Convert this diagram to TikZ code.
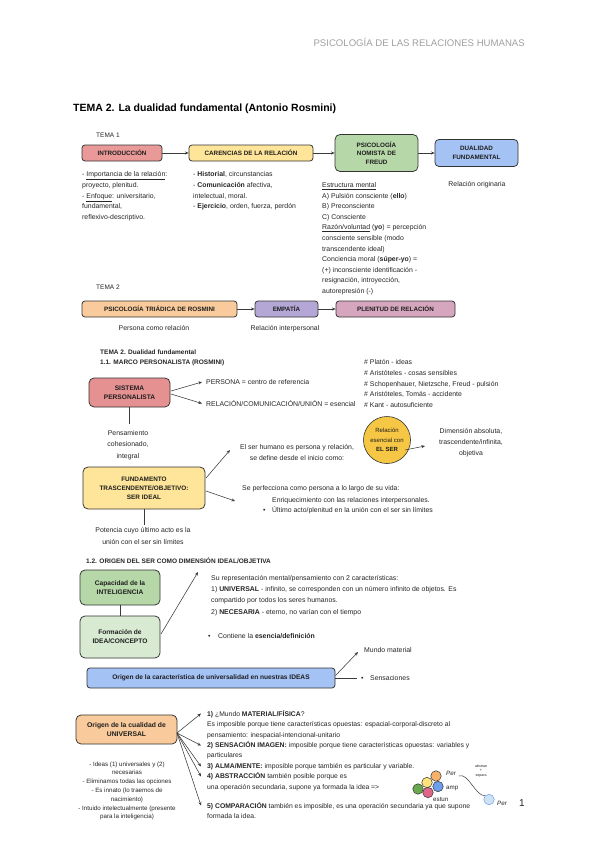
\documentclass[tikz,border=0pt]{standalone}
\usepackage{fontspec}
\setmainfont{Liberation Sans}
\usetikzlibrary{arrows.meta}
\definecolor{cIntro}{HTML}{EA9999}
\definecolor{cYel}{HTML}{FFE599}
\definecolor{cGreen}{HTML}{B6D7A8}
\definecolor{cLgreen}{HTML}{D9EAD3}
\definecolor{cBlue}{HTML}{A4C2F4}
\definecolor{cOrange}{HTML}{F9CB9C}
\definecolor{cPurple}{HTML}{B4A7D6}
\definecolor{cMauve}{HTML}{D5A6BD}
\definecolor{cSist}{HTML}{E69191}
\definecolor{cSer}{HTML}{F6C744}
\definecolor{bord}{HTML}{333333}
\definecolor{boxtxt}{HTML}{1E1E1E}
\definecolor{txtc}{HTML}{262626}
\definecolor{headc}{HTML}{A0A0A0}
\definecolor{linec}{HTML}{3A3A3A}
\definecolor{dotO}{HTML}{F6B26B}
\definecolor{dotY}{HTML}{FFE27A}
\definecolor{dotG}{HTML}{6AA84F}
\definecolor{dotP}{HTML}{E06688}
\definecolor{dotB}{HTML}{6D9EEB}
\definecolor{dotL}{HTML}{CFE2F3}
\begin{document}
\begin{tikzpicture}[x=1pt,y=-1pt,
  box/.style={draw=bord, line width=0.75pt, rounded corners=3pt, inner sep=0pt, align=center,
    font=\fontsize{6.3}{8.3}\selectfont\bfseries, text=boxtxt},
  lbl/.style={inner sep=0pt, anchor=base west, align=left, font=\fontsize{6.9}{10.8}\selectfont, text=txtc},
  lblc/.style={lbl, anchor=base, align=center},
  conn/.style={draw=linec, line width=0.55pt},
  arr/.style={conn, -{Stealth[length=3.6pt,width=3pt]}},
  dot/.style={circle, draw=bord, line width=0.5pt, minimum size=10.5pt, inner sep=0pt},
]
\useasboundingbox (0,0) rectangle (600,848);
\fill[white] (0,0) rectangle (600,848);

% header and title
\node[anchor=base east, inner sep=0pt, font=\fontsize{9.6}{11}\selectfont, text=headc] (hdr) at (525,46.4) {PSICOLOGÍA DE LAS RELACIONES HUMANAS};
\node[anchor=base west, inner sep=0pt, font=\fontsize{10.5}{12}\selectfont\bfseries] (title) at (73,111.8) {TEMA 2. La dualidad fundamental (Antonio Rosmini)};

% TEMA 1
\node[lbl, font=\fontsize{6.5}{8}\selectfont] (t1) at (96,137.3) {TEMA 1};
\node[box, fill=cIntro, minimum width=80pt, minimum height=16pt] (intro) at (122,153) {INTRODUCCIÓN};
\node[box, fill=cYel, minimum width=124pt, minimum height=16pt] (caren) at (251,153) {CARENCIAS DE LA RELACIÓN};
\node[box, fill=cGreen, minimum width=83pt, minimum height=37pt, rounded corners=5pt] (freud) at (376.5,153) {PSICOLOGÍA\\NOMISTA DE\\FREUD};
\node[box, fill=cBlue, minimum width=83pt, minimum height=27pt, rounded corners=4pt] (dual) at (476.5,153) {DUALIDAD\\FUNDAMENTAL};
\draw[arr] (intro.east) -- (caren.west);
\draw[arr] (caren.east) -- (freud.west);
\draw[arr] (freud.east) -- (dual.west);

\node[lbl] (introtx) at (82,219.7) {- \underline{Importancia de la relación}:\\proyecto, plenitud.\\- \underline{Enfoque}: universitario,\\fundamental,\\reflexivo-descriptivo.};
\node[lbl] (carentx) at (193,208.9) {- \textbf{Historial}, circunstancias\\- \textbf{Comunicación} afectiva,\\intelectual, moral.\\- \textbf{Ejercicio}, orden, fuerza, perdón};
\node[lbl, font=\fontsize{6.9}{10.6}\selectfont] (freudtx) at (322,293.5) {\underline{Estructura mental}\\A) Pulsión consciente (\textbf{ello})\\B) Preconsciente\\C) Consciente\\\underline{Razón/voluntad} (\textbf{yo}) = percepción\\consciente sensible (modo\\transcendente ideal)\\Conciencia moral (\textbf{súper-yo}) =\\(+) inconsciente identificación -\\resignación, introyección,\\autorepresión (-)};
\node[lblc] (dualtx) at (477,186.5) {Relación originaria};

% TEMA 2
\node[lbl, font=\fontsize{6.5}{8}\selectfont] (t2) at (96,289.5) {TEMA 2};
\node[box, fill=cOrange, minimum width=155pt, minimum height=16pt] (triad) at (159.5,309) {PSICOLOGÍA TRIÁDICA DE ROSMINI};
\node[box, fill=cPurple, minimum width=63pt, minimum height=16pt] (empat) at (286.5,309) {EMPATÍA};
\node[box, fill=cMauve, minimum width=119pt, minimum height=16pt] (plen) at (395.5,309) {PLENITUD DE RELACIÓN};
\draw[arr] (triad.east) -- (empat.west);
\draw[arr] (empat.east) -- (plen.west);
\node[lblc] (triadtx) at (154,330.5) {Persona como relación};
\node[lblc] (empattx) at (285,330.5) {Relación interpersonal};

% 1.1
\node[lbl, font=\fontsize{6.5}{10}\selectfont\bfseries] (h11) at (100,364.5) {TEMA 2. Dualidad fundamental\\1.1. MARCO PERSONALISTA (ROSMINI)};
\node[box, fill=cSist, minimum width=81pt, minimum height=29pt, rounded corners=5pt, font=\fontsize{6.6}{8.6}\selectfont\bfseries] (sist) at (129.5,392.5) {SISTEMA\\PERSONALISTA};
\node[lbl] (pers) at (206,384.8) {PERSONA = centro de referencia};
\node[lbl] (relc) at (206,406.8) {RELACIÓN/COMUNICACIÓN/UNIÓN = esencial};
\coordinate (s1) at (171,391);
\coordinate (s2) at (171,394);
\coordinate (p1) at (202,382);
\coordinate (p2) at (202,403.5);
\draw[arr] (s1) -- (p1);
\draw[arr] (s2) -- (p2);
\node[lbl] (list) at (364,407.7) {\# Platón - ideas\\\# Aristóteles - cosas sensibles\\\# Schopenhauer, Nietzsche, Freud - pulsión\\\# Aristóteles, Tomás - accidente\\\# Kant - autosuficiente};
\coordinate (sb) at (129.5,424);
\draw[conn] (sist.south) -- (sb);
\node[lblc, font=\fontsize{6.9}{11.5}\selectfont] (penstx) at (128,458.3) {Pensamiento\\cohesionado,\\integral};

\node[circle, draw=bord, line width=0.6pt, fill=cSer, minimum size=47pt, inner sep=0pt, align=center, font=\fontsize{6}{9.5}\selectfont, text=boxtxt] (ser) at (387,440) {Relación\\esencial con\\\textbf{EL SER}};
\coordinate (sa) at (405,450);
\coordinate (da) at (425,446);
\draw[arr] (sa) -- (da);
\node[lblc, font=\fontsize{6.9}{11}\selectfont] (dimtx) at (471,455.3) {Dimensión absoluta,\\trascendente/infinita,\\objetiva};
\node[lblc, font=\fontsize{6.9}{11}\selectfont] (sertx) at (297,460.3) {El ser humano es persona y relación,\\se define desde el inicio como:};

\node[box, fill=cYel, minimum width=122pt, minimum height=42pt, rounded corners=5pt, font=\fontsize{6.4}{9}\selectfont\bfseries] (fund) at (144,488) {FUNDAMENTO\\TRASCENDENTE/OBJETIVO:\\SER IDEAL};
\coordinate (f1) at (206,478);
\coordinate (f1e) at (230,450);
\coordinate (f2) at (206,491);
\coordinate (f2e) at (235,501);
\draw[arr] (f1) -- (f1e);
\draw[arr] (f2) -- (f2e);
\node[lbl] (perf) at (242,490.3) {Se perfecciona como persona a lo largo de su vida:};
\node[lbl] (enri) at (272,502.3) {Enriquecimiento con las relaciones interpersonales.};
\node[lbl] (bul1) at (263,512.8) {•};
\node[lbl] (ulti) at (272,512.8) {Último acto/plenitud en la unión con el ser sin límites};
\coordinate (fb) at (144,525);
\draw[conn] (fund.south) -- (fb);
\node[lblc, font=\fontsize{6.9}{11.2}\selectfont] (poten) at (143,544) {Potencia cuyo último acto es la\\unión con el ser sin límites};

% 1.2
\node[lbl, font=\fontsize{6.5}{8}\selectfont\bfseries] (h12) at (86,563.3) {1.2. ORIGEN DEL SER COMO DIMENSIÓN IDEAL/OBJETIVA};
\node[box, fill=cGreen, minimum width=80pt, minimum height=35pt, rounded corners=5pt, font=\fontsize{6.6}{8.8}\selectfont\bfseries] (capac) at (120,587.5) {Capacidad de la\\INTELIGENCIA};
\node[box, fill=cLgreen, minimum width=80pt, minimum height=42pt, rounded corners=5pt, font=\fontsize{6.6}{8.8}\selectfont\bfseries] (forma) at (120,637) {Formación de\\IDEA/CONCEPTO};
\draw[conn] (capac.south) -- (forma.north);
\coordinate (fo1) at (161,634);
\coordinate (fo1e) at (198,572);
\draw[arr] (fo1) -- (fo1e);
\node[lbl, font=\fontsize{6.9}{11.3}\selectfont] (reprtx) at (211,614.2) {Su representación mental/pensamiento con 2 características:\\1) \textbf{UNIVERSAL} - infinito, se corresponden con un número infinito de objetos. Es\\compartido por todos los seres humanos.\\2) \textbf{NECESARIA} - eterno, no varían con el tiempo};
\node[lbl] (bul2) at (208,638.3) {•};
\node[lbl] (conti) at (218,638.3) {Contiene la \textbf{esencia/definición}};

\node[box, fill=cBlue, minimum width=248pt, minimum height=20pt, font=\fontsize{6.6}{8}\selectfont\bfseries] (oriu) at (211,678) {Origen de la característica de universalidad en nuestras IDEAS};
\coordinate (o1) at (335.5,675.5);
\coordinate (o1e) at (358,652);
\coordinate (o2e) at (357,678);
\draw[arr] (o1) -- (o1e);
\draw[conn] (oriu.east) -- (o2e);
\node[lbl] (mund) at (364,652.3) {Mundo material};
\node[lbl] (bul3) at (361,680.3) {•};
\node[lbl] (sens) at (370,680.3) {Sensaciones};

% bottom
\node[box, fill=cOrange, minimum width=101pt, minimum height=29pt, rounded corners=5pt, font=\fontsize{6.8}{9}\selectfont\bfseries] (oric) at (126.5,729.5) {Origen de la cualidad de\\UNIVERSAL};
\node[lblc, font=\fontsize{6.2}{8.8}\selectfont] (idtx) at (127,818.9) {- Ideas (1) universales y (2)\\necesarias\\- Eliminamos todas las opciones\\- Es innato (lo traemos de\\nacimiento)\\- Intuido intelectualmente (presente\\para la inteligencia)};
\coordinate (fan) at (177,733);
\coordinate (e1) at (201,713.5);
\coordinate (e2) at (201,745.5);
\coordinate (e3) at (201,766.5);
\coordinate (e4) at (201,776.5);
\coordinate (e5) at (201,805.5);
\foreach \e in {e1,e2,e3,e4,e5} \draw[arr] (fan) -- (\e);
\node[lbl, font=\fontsize{6.8}{10.4}\selectfont] (imptx) at (207,789.1) {\textbf{1)} ¿Mundo \textbf{MATERIAL/FÍSICA}?\\Es imposible porque tiene características opuestas: espacial-corporal-discreto al\\pensamiento: inespacial-intencional-unitario\\\textbf{2) SENSACIÓN IMAGEN:} imposible porque tiene características opuestas: variables y\\particulares\\\textbf{3) ALMA/MENTE:} imposible porque también es particular y variable.\\\textbf{4) ABSTRACCIÓN} también posible porque es\\una operación secundaria, supone ya formada la idea =>};
\node[lbl, font=\fontsize{6.8}{10.4}\selectfont] (comptx) at (207,818.5) {\textbf{5) COMPARACIÓN} también es imposible, es una operación secundaria ya que supone\\formada la idea.};

\node[dot, fill=dotO] (d1) at (436,776) {};
\node[dot, fill=dotY] (d2) at (427,782.5) {};
\node[dot, fill=dotG] (d3) at (418,789) {};
\node[dot, fill=dotP] (d4) at (428,792.5) {};
\node[dot, fill=dotB] (d5) at (438,786.5) {};
\node[lbl, font=\fontsize{6.2}{7}\selectfont\itshape] (per1) at (446,775) {Per};
\node[lbl, font=\fontsize{6.2}{7}\selectfont] (amp) at (446,789.5) {amp};
\node[lbl, font=\fontsize{6.2}{7}\selectfont] (estun) at (433,801) {estun};
\node[dot, fill=dotL, draw=dotB] (d6) at (489,799.5) {};
\node[lbl, font=\fontsize{6.2}{7}\selectfont\itshape] (per2) at (497,805) {Per};
\coordinate (cv) at (459,776);
\draw[conn, line width=0.5pt] (cv) .. controls (468,772) and (476,797) .. (d6.north west);
\node[lblc, font=\fontsize{3.6}{4.4}\selectfont] (tiny) at (481,776) {abstrae\\+\\separa};
\node[lbl, font=\fontsize{10}{12}\selectfont, text=txtc] (pnum) at (519,806.5) {1};
\end{tikzpicture}
\end{document}
